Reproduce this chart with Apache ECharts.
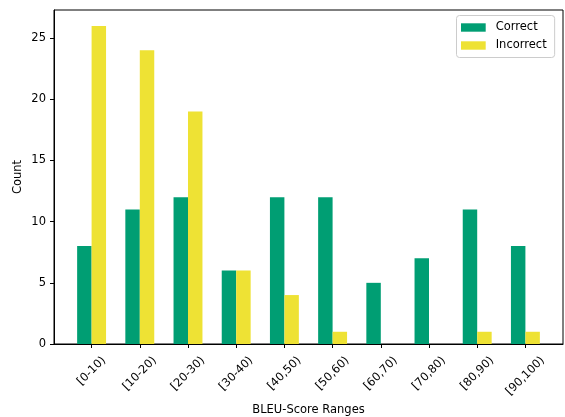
<!DOCTYPE html>
<html><head><meta charset="utf-8">
<script src="https://cdn.jsdelivr.net/npm/echarts@6/dist/echarts.min.js"></script>
<style>html,body{margin:0;padding:0;background:#fff}#c{width:565px;height:417px}</style>
</head><body><div id="c"></div>
<script>
const categories = ['[0-10)','[10-20)','[20-30)','[30-40)','[40,50)','[50,60)','[60,70)','[70,80)','[80,90)','[90,100)'];
const correct = [8,11,12,6,12,12,5,7,11,8];
const incorrect = [26,24,19,6,4,1,0,0,1,1];
const yTicks = [0,5,10,15,20,25];

const FONT = 'DejaVu Sans';
const FS = 11.5;
const gridL = 54, gridR = 563, gridT = 10, gridB = 344;
const xMin = -0.78, xMax = categories.length - 1 + 0.78;
const pxPerUnit = (gridR - gridL) / (xMax - xMin);
const barW = 0.3 * pxPerUnit;
const idx = categories.map((_, i) => i);

// measure label widths so rotated labels are centred like matplotlib
const ctx = document.createElement('canvas').getContext('2d');
ctx.font = FS + 'px "' + FONT + '"';
const widths = categories.map(c => ctx.measureText(c).width);
const wMin = Math.min(...widths);
const rich = {};
categories.forEach((c, i) => {
  const p = (widths[i] - wMin) / 2;
  rich['r' + i] = {fontFamily: FONT, fontSize: FS, color: '#000', padding: [p, p, 0, 0]};
});

const chart = echarts.init(document.getElementById('c'), null, {renderer: 'canvas'});
chart.setOption({
  animation: false,
  backgroundColor: '#fff',
  textStyle: {fontFamily: FONT},
  grid: {left: gridL, right: 565 - gridR, top: gridT, bottom: 417 - gridB, show: true, borderColor: '#000', borderWidth: 1, containLabel: false, outerBoundsMode: 'none'},
  legend: {
    orient: 'vertical', left: 456.5, top: 15.5,
    padding: [5, 8, 5, 4.5], itemGap: 4, itemWidth: 24.7, itemHeight: 8.4,
    borderColor: '#cccccc', borderWidth: 1, borderRadius: 3, backgroundColor: 'rgba(255,255,255,0.8)',
    icon: 'rect',
    textStyle: {fontFamily: FONT, fontSize: FS, color: '#000', lineHeight: 14, padding: [0, 0, 0, 5]},
    data: ['Correct', 'Incorrect']
  },
  xAxis: {
    type: 'value', min: xMin, max: xMax,
    name: 'BLEU-Score Ranges', nameLocation: 'middle', nameGap: 60, nameMoveOverlap: false,
    nameTextStyle: {fontFamily: FONT, fontSize: FS, color: '#000'},
    axisLine: {show: true, onZero: false, lineStyle: {color: '#000', width: 1}},
    axisTick: {show: true, customValues: idx, length: 4, lineStyle: {color: '#000'}},
    axisLabel: {
      customValues: idx, rotate: 45, margin: 27, align: 'center', verticalAlign: 'middle',
      fontFamily: FONT, fontSize: FS, color: '#000',
      formatter: v => { const i = Math.round(v); return '{r' + i + '|' + categories[i] + '}'; },
      rich: rich
    },
    splitLine: {show: false}
  },
  yAxis: {
    type: 'value', min: 0, max: 27.3,
    name: 'Count', nameLocation: 'middle', nameGap: 30, nameMoveOverlap: false,
    nameTextStyle: {fontFamily: FONT, fontSize: FS, color: '#000'},
    axisLine: {show: true, onZero: false, lineStyle: {color: '#000', width: 1}},
    axisTick: {show: true, customValues: yTicks, length: 4, lineStyle: {color: '#000'}},
    axisLabel: {customValues: yTicks, margin: 8, fontFamily: FONT, fontSize: FS, color: '#000'},
    splitLine: {show: false}
  },
  series: [
    {name: 'Correct', type: 'bar', barWidth: barW, barGap: '0%', itemStyle: {color: '#009E73', borderWidth: 0},
     data: correct.map((v, i) => [i, v])},
    {name: 'Incorrect', type: 'bar', barWidth: barW, barGap: '0%', itemStyle: {color: '#EEE234', borderWidth: 0},
     data: incorrect.map((v, i) => [i, v])}
  ]
});
</script></body></html>
